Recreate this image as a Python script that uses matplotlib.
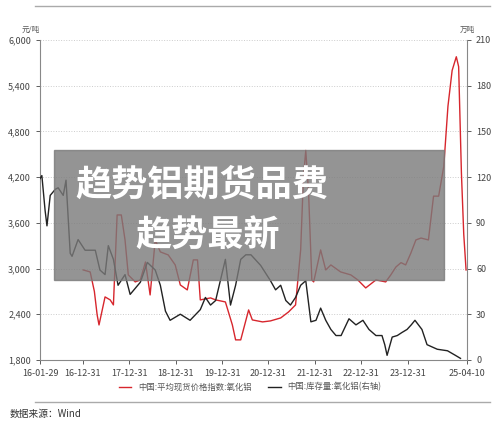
import matplotlib.pyplot as plt
from matplotlib.patches import Rectangle

plt.rcParams['font.family'] = ['Noto Sans CJK SC', 'DejaVu Sans']

# price index (yuan/ton), decimal years
price_t = [2017.01, 2017.16, 2017.25, 2017.31, 2017.35, 2017.48, 2017.59, 2017.66, 2017.74, 2017.83,
           2017.91, 2017.98, 2018.13, 2018.24, 2018.35, 2018.45, 2018.56, 2018.67, 2018.84, 2018.99,
           2019.10, 2019.25, 2019.38, 2019.47, 2019.53, 2019.75, 2019.86, 2020.07, 2020.22, 2020.29,
           2020.40, 2020.57, 2020.65, 2020.87, 2021.04, 2021.26, 2021.43, 2021.58, 2021.69, 2021.75,
           2021.80, 2021.86, 2021.93, 2021.97, 2022.12, 2022.23, 2022.34, 2022.55, 2022.77, 2022.92,
           2023.09, 2023.31, 2023.52, 2023.63, 2023.74, 2023.85, 2023.95, 2024.06, 2024.17, 2024.28,
           2024.44, 2024.55, 2024.66, 2024.77, 2024.86, 2024.95, 2025.04, 2025.09, 2025.15, 2025.20,
           2025.25]
price_v = [2981, 2955, 2700, 2391, 2259, 2627, 2588, 2522, 3703, 3703,
           3375, 2916, 2824, 2850, 3086, 2653, 3375, 3218, 3178, 3047,
           2784, 2719, 3113, 3113, 2588, 2614, 2588, 2561, 2259, 2063,
           2063, 2456, 2325, 2299, 2312, 2351, 2430, 2522, 3244, 4200,
           4550, 4000, 2850, 2824, 3244, 2981, 3047, 2955, 2916, 2850,
           2745, 2850, 2824, 2916, 3020, 3077, 3047, 3200, 3375, 3400,
           3375, 3950, 3950, 4340, 5130, 5600, 5780, 5650, 4250, 3450,
           2981]

# inventory (10k tons, right axis)
stock_t = [2016.08, 2016.12, 2016.19, 2016.23, 2016.30, 2016.41, 2016.47, 2016.58, 2016.64, 2016.73,
           2016.77, 2016.90, 2017.05, 2017.27, 2017.37, 2017.48, 2017.55, 2017.66, 2017.76, 2017.91,
           2018.02, 2018.24, 2018.39, 2018.56, 2018.67, 2018.78, 2018.88, 2019.10, 2019.31, 2019.53,
           2019.64, 2019.75, 2019.86, 2020.07, 2020.18, 2020.29, 2020.40, 2020.51, 2020.62, 2020.83,
           2021.04, 2021.15, 2021.26, 2021.37, 2021.47, 2021.58, 2021.69, 2021.80, 2021.91, 2022.02,
           2022.12, 2022.23, 2022.34, 2022.45, 2022.56, 2022.73, 2022.88, 2023.03, 2023.16, 2023.31,
           2023.44, 2023.50, 2023.55, 2023.66, 2023.77, 2023.87, 2023.98, 2024.07, 2024.15, 2024.30,
           2024.41, 2024.63, 2024.85, 2025.02, 2025.13]
stock_v = [119, 121, 98, 88, 108, 112, 113, 108, 118, 70,
           68, 79, 72, 72, 59, 56, 75, 66, 49, 56,
           43, 51, 64, 59, 49, 32, 26, 30, 26, 33,
           41, 36, 39, 66, 36, 49, 66, 69, 69, 62,
           52, 46, 49, 39, 36, 41, 49, 52, 25, 26,
           34, 26, 20, 16, 16, 27, 23, 26, 20, 16,
           16, 10, 3, 15, 16, 18, 20, 23, 26, 20,
           10, 7, 6, 3, 1]

xticks = [2016.08, 2016.997, 2017.997, 2018.997, 2019.997, 2020.997, 2021.997, 2022.997, 2023.997, 2025.27]
xlabels = ['16-01-29', '16-12-31', '17-12-31', '18-12-31', '19-12-31', '20-12-31',
           '21-12-31', '22-12-31', '23-12-31', '25-04-10']

fig = plt.figure(figsize=(5, 4.3), dpi=100)
ax = fig.add_axes([0.08, 0.163, 0.854, 0.744])
ax2 = ax.twinx()

ax.plot(price_t, price_v, color='#d7262d', lw=1.0, label='中国:平均现货价格指数:氧化铝')
ax2.plot(stock_t, stock_v, color='#222222', lw=1.0, label='中国:库存量:氧化铝(右轴)')

ax.set_xlim(2016.08, 2025.27)
ax.set_ylim(1800, 6000)
ax2.set_ylim(0, 210)
ax.set_yticks([1800, 2400, 3000, 3600, 4200, 4800, 5400, 6000])
ax.set_yticklabels([f'{v:,}' for v in [1800, 2400, 3000, 3600, 4200, 4800, 5400, 6000]])
ax2.set_yticks([0, 30, 60, 90, 120, 150, 180, 210])
ax.set_xticks(xticks)
ax.set_xticklabels(xlabels)
ax.grid(axis='y', ls=':', color='#cccccc', lw=0.7)
for a in (ax, ax2):
    a.tick_params(labelsize=6.5, colors='#444444', length=3, width=0.6)
    a.spines['top'].set_visible(False)
    for s in ('left', 'right', 'bottom'):
        a.spines[s].set_color('#888888')
ax.spines['right'].set_visible(False)
ax2.spines['left'].set_visible(False)
ax2.spines['bottom'].set_visible(False)

ax.text(0.0, 1.025, '元/吨', transform=ax.transAxes, fontsize=5.5, color='#555555', ha='right')
ax2.text(1.0, 1.025, '万吨', transform=ax2.transAxes, fontsize=5.5, color='#555555', ha='center')

h1, l1 = ax.get_legend_handles_labels()
h2, l2 = ax2.get_legend_handles_labels()
fig.legend(h1 + h2, l1 + l2, loc='center', bbox_to_anchor=(0.5, 0.1), ncol=2, frameon=False,
           fontsize=6, handlelength=1.5, labelcolor='#555555')

fig.add_artist(plt.Line2D([0.07, 0.98], [0.985, 0.985], color='#aaaaaa', lw=1))
fig.add_artist(plt.Line2D([0.07, 0.98], [0.065, 0.065], color='#aaaaaa', lw=1))
fig.text(0.02, 0.03, '数据来源：Wind', fontsize=7, color='#333333')

fig.add_artist(Rectangle((0.108, 0.349), 0.78, 0.302, transform=fig.transFigure,
                         color='#7a7a7a', alpha=0.8, zorder=10))
fig.text(0.15, 0.57, '趋势铝期货品费', fontsize=26, fontweight='bold', color='white',
         va='center', zorder=11)
fig.text(0.27, 0.45, '趋势最新', fontsize=26, fontweight='bold', color='white',
         va='center', zorder=11)

fig.savefig('out.png')
